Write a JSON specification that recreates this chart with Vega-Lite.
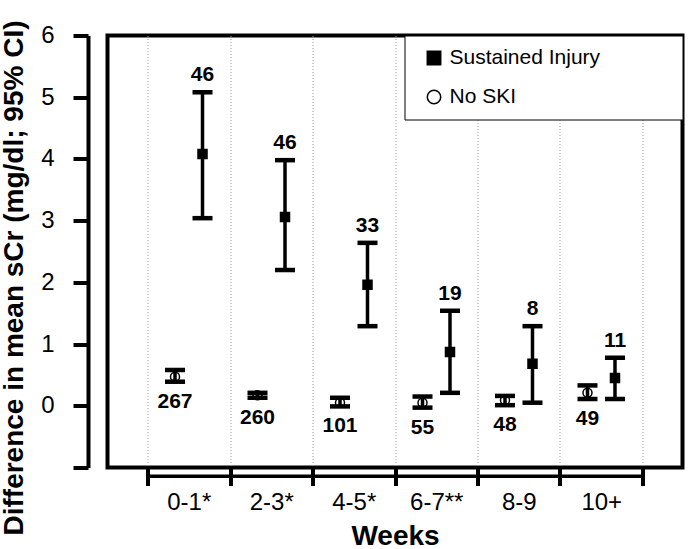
{
  "$schema": "https://vega.github.io/schema/vega-lite/v6.json",
  "width": 575,
  "height": 432,
  "autosize": {"type": "none"},
  "padding": {"left": 107.5, "top": 35.5, "right": 5.5, "bottom": 81.5},
  "config": {
    "view": {"stroke": "black", "strokeWidth": 4},
    "font": "Liberation Sans",
    "text": {"font": "Liberation Sans"},
    "legend": {"strokeColor": "black", "fillColor": "white", "padding": 12}
  },
  "data": {
    "values": [
      {"week": "0-1*", "series": "Sustained Injury", "mean": 4.08, "lo": 3.04, "hi": 5.08, "n": 46},
      {"week": "0-1*", "series": "No SKI", "mean": 0.47, "lo": 0.39, "hi": 0.58, "n": 267},
      {"week": "2-3*", "series": "Sustained Injury", "mean": 3.06, "lo": 2.2, "hi": 3.98, "n": 46},
      {"week": "2-3*", "series": "No SKI", "mean": 0.17, "lo": 0.13, "hi": 0.21, "n": 260},
      {"week": "4-5*", "series": "Sustained Injury", "mean": 1.96, "lo": 1.29, "hi": 2.64, "n": 33},
      {"week": "4-5*", "series": "No SKI", "mean": 0.05, "lo": -0.01, "hi": 0.13, "n": 101},
      {"week": "6-7**", "series": "Sustained Injury", "mean": 0.87, "lo": 0.21, "hi": 1.54, "n": 19},
      {"week": "6-7**", "series": "No SKI", "mean": 0.05, "lo": -0.03, "hi": 0.15, "n": 55},
      {"week": "8-9", "series": "Sustained Injury", "mean": 0.68, "lo": 0.05, "hi": 1.29, "n": 8},
      {"week": "8-9", "series": "No SKI", "mean": 0.09, "lo": 0.01, "hi": 0.16, "n": 48},
      {"week": "10+", "series": "Sustained Injury", "mean": 0.45, "lo": 0.11, "hi": 0.78, "n": 11},
      {"week": "10+", "series": "No SKI", "mean": 0.21, "lo": 0.11, "hi": 0.33, "n": 49}
    ]
  },
  "layer": [
    {
      "mark": {"type": "point", "filled": true, "strokeWidth": 1.5, "size": 81, "opacity": 1},
      "encoding": {
        "x": {
          "field": "week",
          "type": "nominal",
          "title": "Weeks",
          "scale": {"domain": ["0-1*", "2-3*", "4-5*", "6-7**", "8-9", "10+"], "paddingInner": 0, "paddingOuter": 0.485},
          "axis": {
            "tickBand": "extent",
            "domain": false,
            "tickSize": 18,
            "tickWidth": 4,
            "tickColor": "black",
            "grid": true,
            "gridColor": "#9a9a9a",
            "gridDash": [1, 2],
            "gridWidth": 1,
            "labelAngle": 0,
            "labelFontSize": 24,
            "labelColor": "black",
            "labelPadding": 5,
            "titleFontSize": 28,
            "titleFontWeight": "bold",
            "titleColor": "black",
            "titlePadding": 8
          }
        },
        "xOffset": {
          "field": "series",
          "type": "nominal",
          "scale": {"type": "point", "domain": ["No SKI", "Sustained Injury"], "padding": 1.03}
        },
        "y": {
          "field": "mean",
          "type": "quantitative",
          "title": "Difference in mean sCr (mg/dl; 95% CI)",
          "scale": {"domain": [-1, 6], "nice": false, "zero": false},
          "axis": {
            "values": [-1, 0, 1, 2, 3, 4, 5, 6],
            "format": "d",
            "labelExpr": "datum.value < 0 ? '' : datum.label",
            "offset": 19.5,
            "domainWidth": 4,
            "domainColor": "black",
            "tickSize": 15,
            "tickWidth": 4,
            "tickColor": "black",
            "labelFontSize": 24,
            "labelColor": "black",
            "labelPadding": 19,
            "grid": false,
            "titleFontSize": 28,
            "titleFontWeight": "bold",
            "titleColor": "black",
            "titlePadding": 12,
            "titleY": 242
          }
        },
        "shape": {
          "field": "series",
          "type": "nominal",
          "title": null,
          "scale": {"domain": ["Sustained Injury", "No SKI"], "range": ["square", "circle"]},
          "legend": {
            "orient": "top-right",
            "offset": 0,
            "labelFontSize": 21,
            "labelColor": "black",
            "labelLimit": 400,
            "symbolSize": 180,
            "symbolStrokeColor": "black",
            "symbolStrokeWidth": 1.5,
            "symbolOffset": 7,
            "rowPadding": 17,
            "labelOffset": 5,
            "labelExpr": "datum.label + '\u00a0\u00a0\u00a0\u00a0\u00a0\u00a0\u00a0\u00a0\u00a0\u00a0\u00a0\u00a0\u200b'",
            "encode": {
              "legend": {"update": {"strokeWidth": {"value": 2}}}
            }
          }
        },
        "fill": {
          "field": "series",
          "type": "nominal",
          "title": null,
          "scale": {"domain": ["Sustained Injury", "No SKI"], "range": ["black", "white"]}
        },
        "stroke": {
          "field": "series",
          "type": "nominal",
          "title": null,
          "scale": {"domain": ["Sustained Injury", "No SKI"], "range": ["black", "black"]}
        }
      }
    },
    {
      "mark": {"type": "rule", "color": "black", "strokeWidth": 3.5},
      "encoding": {
        "x": {"field": "week", "type": "nominal", "title": "Weeks"},
        "xOffset": {"field": "series", "type": "nominal"},
        "y": {"field": "lo", "type": "quantitative", "title": "Difference in mean sCr (mg/dl; 95% CI)"},
        "y2": {"field": "hi"}
      }
    },
    {
      "mark": {"type": "tick", "color": "black", "size": 20, "thickness": 4.5, "opacity": 1},
      "encoding": {
        "x": {"field": "week", "type": "nominal", "title": "Weeks"},
        "xOffset": {"field": "series", "type": "nominal"},
        "y": {"field": "lo", "type": "quantitative", "title": "Difference in mean sCr (mg/dl; 95% CI)"}
      }
    },
    {
      "mark": {"type": "tick", "color": "black", "size": 20, "thickness": 4.5, "opacity": 1},
      "encoding": {
        "x": {"field": "week", "type": "nominal", "title": "Weeks"},
        "xOffset": {"field": "series", "type": "nominal"},
        "y": {"field": "hi", "type": "quantitative", "title": "Difference in mean sCr (mg/dl; 95% CI)"}
      }
    },
    {
      "transform": [{"filter": "datum.series == 'Sustained Injury'"}],
      "mark": {"type": "text", "fontSize": 21, "fontWeight": "bold", "color": "black", "dy": -17, "baseline": "middle"},
      "encoding": {
        "x": {"field": "week", "type": "nominal", "title": "Weeks"},
        "xOffset": {"field": "series", "type": "nominal"},
        "y": {"field": "hi", "type": "quantitative", "title": "Difference in mean sCr (mg/dl; 95% CI)"},
        "text": {"field": "n", "type": "quantitative"}
      }
    },
    {
      "transform": [{"filter": "datum.series == 'No SKI'"}],
      "mark": {"type": "text", "fontSize": 21, "fontWeight": "bold", "color": "black", "dy": 20, "baseline": "middle"},
      "encoding": {
        "x": {"field": "week", "type": "nominal", "title": "Weeks"},
        "xOffset": {"field": "series", "type": "nominal"},
        "y": {"field": "lo", "type": "quantitative", "title": "Difference in mean sCr (mg/dl; 95% CI)"},
        "text": {"field": "n", "type": "quantitative"}
      }
    },
    {
      "transform": [{"filter": "datum.series == 'No SKI'"}],
      "mark": {"type": "tick", "color": "black", "size": 83, "thickness": 3.5, "opacity": 1, "clip": false},
      "encoding": {
        "x": {"field": "week", "type": "nominal", "title": "Weeks"},
        "y": {"datum": -1.14}
      }
    }
  ]
}
